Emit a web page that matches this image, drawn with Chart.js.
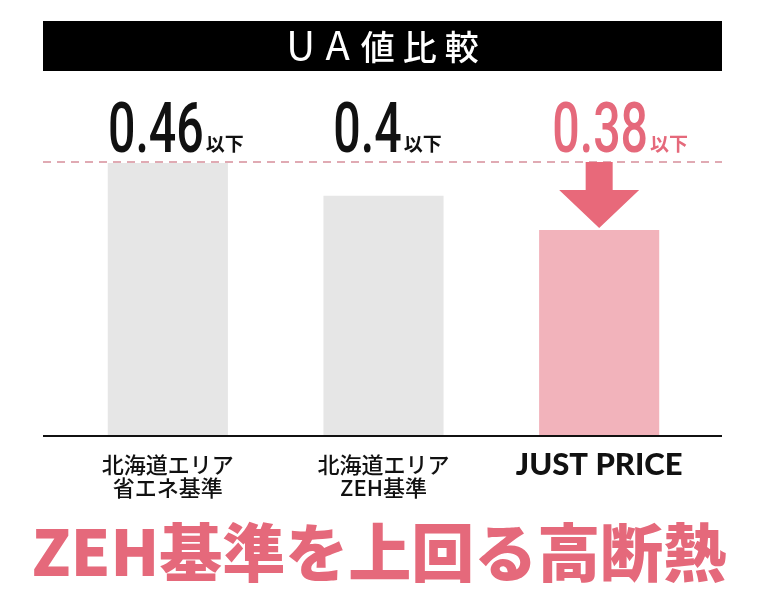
<!DOCTYPE html>
<html lang="ja">
<head>
<meta charset="utf-8">
<script src="https://cdn.jsdelivr.net/npm/chart.js@4"></script>
<style>
  html, body { margin: 0; padding: 0; background: #fff; }
  #wrap { position: relative; width: 758px; height: 604px; overflow: hidden; }
  #chart { position: absolute; left: 0; top: 0; }
  #title {
    position: absolute; left: 43px; top: 21px; width: 679px; height: 50px;
    background: #000; color: #fff; white-space: nowrap;
    display: flex; align-items: center; justify-content: center;
    font: 500 34px "Noto Sans CJK JP", sans-serif;
  }
  #title .inner { line-height: 1; position: relative; top: -3px; }
  #title .lat { font-size: 40px; font-weight: 400; letter-spacing: 11px; line-height: 1; }
  #title .kan { letter-spacing: 8px; margin-right: -8px; line-height: 1; }
  #headline {
    position: absolute; left: 0; top: 503px; width: 758px; height: 74px; line-height: 74px;
    text-align: center; color: #e5697b; white-space: nowrap;
    font: 900 63px "Noto Sans CJK JP", sans-serif; letter-spacing: 0;
  }
</style>
</head>
<body>
<div id="wrap">
  <canvas id="chart" width="758" height="604"></canvas>
  <div id="title"><span class="inner"><span class="lat">UA</span><span class="kan">値比較</span></span></div>
  <div id="headline">ZEH基準を上回る高断熱</div>
</div>
<script>
// ----- Data -----
const categories = [['北海道エリア', '省エネ基準'], ['北海道エリア', 'ZEH基準'], 'JUST PRICE'];
const uaValues   = [0.46, 0.4, 0.38];      // stated UA values (labels above bars)
const barLevels  = [100, 88, 75.5];        // drawn bar heights, % of the first bar
const barColors  = ['#e6e6e6', '#e6e6e6', '#f2b3bb'];
const labelColors = ['#111111', '#111111', '#e5697b'];
const labelShift = [8, 4, 21];             // horizontal nudge of each value label
const ACCENT = '#e8697a';

// ----- Overlay: baseline, dashed reference, arrow, value labels -----
const overlay = {
  id: 'overlay',
  afterDatasetsDraw(chart) {
    const { ctx, chartArea, scales: { y } } = chart;
    const bars = chart.getDatasetMeta(0).data;
    ctx.save();

    // baseline across the full panel
    ctx.strokeStyle = '#111';
    ctx.lineWidth = 2;
    ctx.beginPath();
    ctx.moveTo(43, chartArea.bottom);
    ctx.lineTo(722, chartArea.bottom);
    ctx.stroke();

    // dashed line at the first bar's level
    const refY = y.getPixelForValue(barLevels[0]) - 1;
    ctx.strokeStyle = '#d68f9a';
    ctx.lineWidth = 1.5;
    ctx.setLineDash([8, 6]);
    ctx.beginPath();
    ctx.moveTo(43, refY);
    ctx.lineTo(722, refY);
    ctx.stroke();
    ctx.setLineDash([]);

    // down arrow onto the last bar
    const b = bars[bars.length - 1];
    const tip = b.y - 2, headTop = tip - 38, sw = 13.5, hw = 40;
    ctx.fillStyle = ACCENT;
    ctx.beginPath();
    ctx.moveTo(b.x - sw, refY);
    ctx.lineTo(b.x + sw, refY);
    ctx.lineTo(b.x + sw, headTop);
    ctx.lineTo(b.x + hw, headTop);
    ctx.lineTo(b.x, tip);
    ctx.lineTo(b.x - hw, headTop);
    ctx.lineTo(b.x - sw, headTop);
    ctx.closePath();
    ctx.fill();

    // value labels: condensed number + 以下
    const baseY = 152, sx = 0.69;
    const numFont = '500 70px Roboto', unitFont = '700 19px "Noto Sans CJK JP"';
    ctx.textBaseline = 'alphabetic';
    ctx.textAlign = 'left';
    uaValues.forEach((v, i) => {
      const num = String(v);
      ctx.font = numFont;
      const w1 = ctx.measureText(num).width * sx;
      ctx.font = unitFont;
      const w2 = ctx.measureText('以下').width;
      const start = bars[i].x - (w1 + 2 + w2) / 2 + labelShift[i];
      ctx.fillStyle = labelColors[i];
      ctx.save();
      ctx.translate(start, baseY);
      ctx.scale(sx, 1);
      ctx.font = numFont;
      ctx.fillText(num, 0, 0);
      ctx.restore();
      ctx.font = unitFont;
      ctx.fillText('以下', start + w1 + 2, baseY - 1);
    });
    ctx.restore();
  }
};

// ----- Chart -----
new Chart(document.getElementById('chart'), {
  type: 'bar',
  data: {
    labels: categories,
    datasets: [{
      data: barLevels,
      backgroundColor: barColors,
      borderWidth: 0,
      barPercentage: 0.557,
      categoryPercentage: 1
    }]
  },
  options: {
    responsive: false,
    animation: false,
    layout: { padding: { left: 60, right: 51, top: 163, bottom: 0 } },
    plugins: { legend: { display: false }, tooltip: { enabled: false } },
    scales: {
      x: {
        grid: { display: false, drawTicks: false },
        border: { display: false },
        afterFit: (s) => { s.height = 168; },
        ticks: {
          padding: 17.5,
          maxRotation: 0,
          autoSkip: false,
          color: '#111',
          font: (c) => c.index === 2
            ? { family: 'Lato', weight: '900', size: 31, lineHeight: '23px' }
            : { family: '"Noto Sans CJK JP", sans-serif', weight: '500', size: 22, lineHeight: '23px' }
        }
      },
      y: { display: false, min: 0, max: 100 }
    }
  },
  plugins: [overlay]
});
</script>
</body>
</html>
